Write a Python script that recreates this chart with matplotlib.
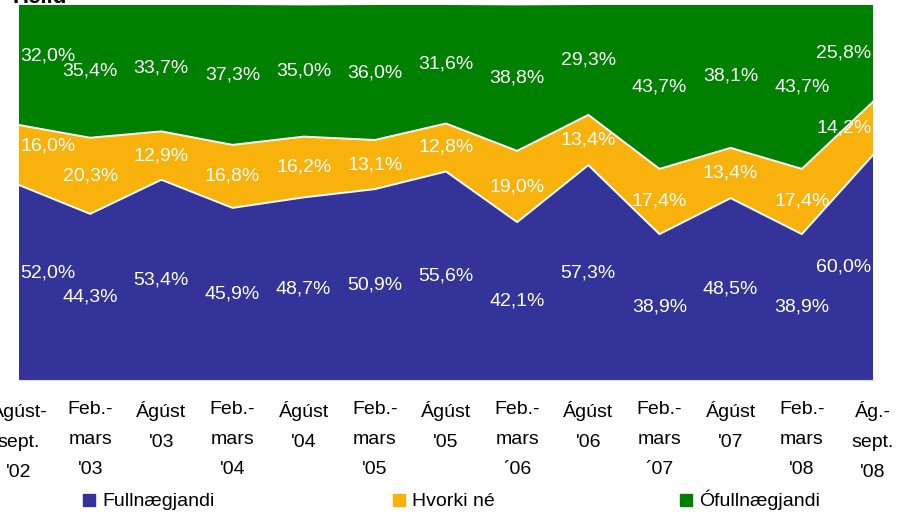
"""Heild: stacked 100% area chart of satisfaction (Fullnægjandi / Hvorki né / Ófullnægjandi)."""

import matplotlib

matplotlib.use("Agg")
import matplotlib.pyplot as plt  # noqa: E402
import numpy as np  # noqa: E402
from matplotlib.patches import Rectangle  # noqa: E402

periods = [
    "Ágúst-\nsept.\n'02", "Feb.-\nmars\n'03", "Ágúst\n'03", "Feb.-\nmars\n'04",
    "Ágúst\n'04", "Feb.-\nmars\n'05", "Ágúst\n'05", "Feb.-\nmars\n´06",
    "Ágúst\n'06", "Feb.-\nmars\n´07", "Ágúst\n'07", "Feb.-\nmars\n'08",
    "Ág.-\nsept.\n'08",
]
fullnaegjandi = [52.0, 44.3, 53.4, 45.9, 48.7, 50.9, 55.6, 42.1, 57.3, 38.9, 48.5, 38.9, 60.0]
hvorki_ne = [16.0, 20.3, 12.9, 16.8, 16.2, 13.1, 12.8, 19.0, 13.4, 17.4, 13.4, 17.4, 14.2]
ofullnaegjandi = [32.0, 35.4, 33.7, 37.3, 35.0, 36.0, 31.6, 38.8, 29.3, 43.7, 38.1, 43.7, 25.8]

series = [fullnaegjandi, hvorki_ne, ofullnaegjandi]
names = ["Fullnægjandi", "Hvorki né", "Ófullnægjandi"]
colors = ["#333399", "#F9B20C", "#008000"]

plt.rcParams["font.family"] = ["Liberation Sans", "DejaVu Sans"]

W, H = 905, 516
fig = plt.figure(figsize=(W / 100, H / 100), dpi=100)
ax = fig.add_axes([19 / W, (H - 380) / H, (873 - 19) / W, 375 / H])

x = np.arange(len(periods))
vals = np.array(series)
ax.stackplot(x, vals, colors=colors, linewidth=0)

# white separators between the bands
cum = np.cumsum(vals, axis=0)
for row in cum[:-1]:
    ax.plot(x, row, color="white", lw=1.4)

# labels in the middle of each band
bottoms = cum - vals
for s in range(len(series)):
    for i in x:
        ha = "left" if i == 0 else ("right" if i == len(x) - 1 else "center")
        xi = i + (0.02 if i == 0 else (-0.02 if i == len(x) - 1 else 0))
        yi = bottoms[s, i] + vals[s, i] / 2 + (2.5 if i == 0 else 0)
        ax.text(xi, yi, f"{vals[s, i]:.1f}%".replace(".", ","),
                ha=ha, va="center", color="white", fontsize=14)

ax.set_xlim(0, len(x) - 1)
ax.set_ylim(0, 100)
ax.set_yticks([])
ax.set_xticks(x)
ax.set_xticklabels(periods, fontsize=14, linespacing=2.0)
ax.tick_params(axis="x", length=0, pad=15)
for side in ["top", "left", "right"]:
    ax.spines[side].set_visible(False)
ax.spines["bottom"].set_color("#DDDDEE")

fig.text(12 / W, 1 - 3 / H, "Heild", fontsize=16, fontweight="bold", va="baseline")

# legend: square swatch + label, spread along the bottom like the original
for name, c, lx in zip(names, colors, [83, 393, 680]):
    fig.add_artist(Rectangle((lx / W, 1 - 506 / H), 12 / W, 12 / H,
                             transform=fig.transFigure, color=c))
    fig.text((lx + 19) / W, 1 - 506 / H, name, fontsize=14, va="baseline")

fig.savefig("out.png", dpi=100)
